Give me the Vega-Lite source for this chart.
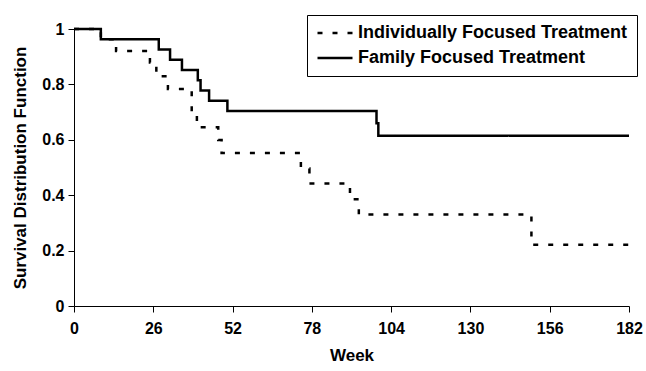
{
  "$schema": "https://vega.github.io/schema/vega-lite/v6.json",
  "width": 555,
  "height": 277,
  "autosize": {"type": "none"},
  "padding": {"left": 74, "top": 29, "right": 17, "bottom": 65},
  "background": "white",
  "config": {"font": "Liberation Sans", "view": {"stroke": null}},
  "data": {
    "values": [
      {"group": "Family Focused Treatment", "week": 0, "survival": 1},
      {"group": "Family Focused Treatment", "week": 8.8, "survival": 0.963},
      {"group": "Family Focused Treatment", "week": 27.8, "survival": 0.926},
      {"group": "Family Focused Treatment", "week": 31.5, "survival": 0.889},
      {"group": "Family Focused Treatment", "week": 35.4, "survival": 0.852},
      {"group": "Family Focused Treatment", "week": 40.6, "survival": 0.815},
      {"group": "Family Focused Treatment", "week": 41.5, "survival": 0.778},
      {"group": "Family Focused Treatment", "week": 44.3, "survival": 0.741},
      {"group": "Family Focused Treatment", "week": 50.3, "survival": 0.704},
      {"group": "Family Focused Treatment", "week": 99.2, "survival": 0.66},
      {"group": "Family Focused Treatment", "week": 99.8, "survival": 0.615},
      {"group": "Family Focused Treatment", "week": 182, "survival": 0.615},
      {"group": "Individually Focused Treatment", "week": 0, "survival": 1},
      {"group": "Individually Focused Treatment", "week": 8.8, "survival": 0.963},
      {"group": "Individually Focused Treatment", "week": 13.8, "survival": 0.921},
      {"group": "Individually Focused Treatment", "week": 24.9, "survival": 0.879},
      {"group": "Individually Focused Treatment", "week": 27.0, "survival": 0.829},
      {"group": "Individually Focused Treatment", "week": 30.8, "survival": 0.783},
      {"group": "Individually Focused Treatment", "week": 38.6, "survival": 0.69},
      {"group": "Individually Focused Treatment", "week": 40.3, "survival": 0.645},
      {"group": "Individually Focused Treatment", "week": 47.3, "survival": 0.599},
      {"group": "Individually Focused Treatment", "week": 48.4, "survival": 0.552},
      {"group": "Individually Focused Treatment", "week": 74.4, "survival": 0.496},
      {"group": "Individually Focused Treatment", "week": 77.2, "survival": 0.442},
      {"group": "Individually Focused Treatment", "week": 90.5, "survival": 0.385},
      {"group": "Individually Focused Treatment", "week": 93.4, "survival": 0.33},
      {"group": "Individually Focused Treatment", "week": 150, "survival": 0.221},
      {"group": "Individually Focused Treatment", "week": 182, "survival": 0.221}
    ]
  },
  "mark": {"type": "line", "interpolate": "step-after", "color": "black", "strokeWidth": 2.5, "clip": false},
  "encoding": {
    "x": {
      "field": "week",
      "type": "quantitative",
      "scale": {"domain": [0, 182], "nice": false, "zero": false},
      "axis": {
        "title": "Week",
        "values": [0, 26, 52, 78, 104, 130, 156, 182],
        "grid": false,
        "labelFlush": false,
        "labelFont": "Liberation Sans",
        "labelFontSize": 16,
        "labelFontWeight": "bold",
        "labelColor": "black",
        "labelPadding": 8,
        "tickSize": 6,
        "tickColor": "black",
        "domainColor": "black",
        "titleFont": "Liberation Sans",
        "titleFontSize": 17,
        "titleFontWeight": "bold",
        "titleColor": "black",
        "titlePadding": 11
      }
    },
    "y": {
      "field": "survival",
      "type": "quantitative",
      "scale": {"domain": [0, 1], "nice": false},
      "axis": {
        "title": "Survival Distribution Function",
        "values": [0, 0.2, 0.4, 0.6, 0.8, 1],
        "format": "~g",
        "grid": false,
        "labelFont": "Liberation Sans",
        "labelFontSize": 16,
        "labelFontWeight": "bold",
        "labelColor": "black",
        "labelPadding": 4,
        "tickSize": 6,
        "tickColor": "black",
        "domainColor": "black",
        "titleFont": "Liberation Sans",
        "titleFontSize": 17,
        "titleFontWeight": "bold",
        "titleColor": "black",
        "titlePadding": 12
      }
    },
    "strokeDash": {
      "field": "group",
      "type": "nominal",
      "scale": {
        "domain": ["Individually Focused Treatment", "Family Focused Treatment"],
        "range": [[5, 10], [1, 0]]
      },
      "legend": {
        "title": null,
        "orient": "none",
        "legendX": 233,
        "legendY": -14,
        "direction": "vertical",
        "labelFont": "Liberation Sans",
        "labelFontSize": 18,
        "labelFontWeight": "bold",
        "labelColor": "black",
        "labelLimit": 400,
        "labelOffset": 4,
        "symbolType": "stroke",
        "symbolSize": 1225,
        "symbolStrokeWidth": 2.5,
        "symbolStrokeColor": "black",
        "clipHeight": 18,
        "rowPadding": 7,
        "padding": 9,
        "strokeColor": "black",
        "fillColor": "white",
        "cornerRadius": 0
      }
    }
  }
}
